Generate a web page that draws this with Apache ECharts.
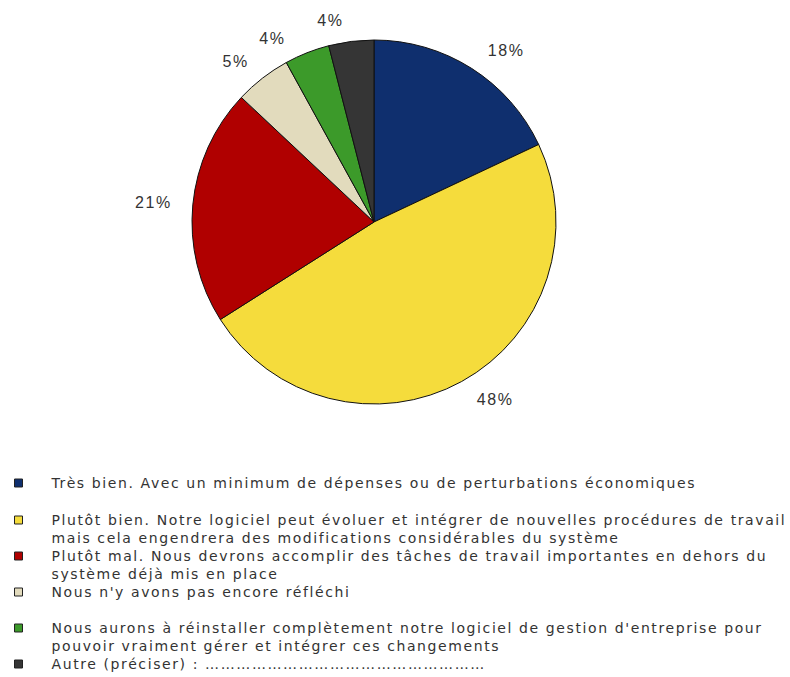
<!DOCTYPE html>
<html>
<head>
<meta charset="utf-8">
<script src="https://cdn.jsdelivr.net/npm/echarts@6/dist/echarts.min.js"></script>
<style>
html,body{margin:0;padding:0;background:#fff;}
#chart{width:790px;height:677px;}
#chart svg text{letter-spacing:1.6px;}
</style>
</head>
<body>
<div id="chart"></div>
<script>
var categories = [
  "Très bien. Avec un minimum de dépenses ou de perturbations économiques",
  "Plutôt bien. Notre logiciel peut évoluer et intégrer de nouvelles procédures de travail mais cela engendrera des modifications considérables du système",
  "Plutôt mal. Nous devrons accomplir des tâches de travail importantes en dehors du système déjà mis en place",
  "Nous n'y avons pas encore réfléchi",
  "Nous aurons à réinstaller complètement notre logiciel de gestion d'entreprise pour pouvoir vraiment gérer et intégrer ces changements",
  "Autre (préciser) : ………………………………………………"
];
var legendLines = [
  ["Très bien. Avec un minimum de dépenses ou de perturbations économiques"],
  ["Plutôt bien. Notre logiciel peut évoluer et intégrer de nouvelles procédures de travail", "mais cela engendrera des modifications considérables du système"],
  ["Plutôt mal. Nous devrons accomplir des tâches de travail importantes en dehors du", "système déjà mis en place"],
  ["Nous n'y avons pas encore réfléchi"],
  ["Nous aurons à réinstaller complètement notre logiciel de gestion d'entreprise pour", "pouvoir vraiment gérer et intégrer ces changements"],
  ["Autre (préciser) : ………………………………………………"]
];
var values = [18, 48, 21, 5, 4, 4];
var colors = ["#0f2f6e", "#f5dc3c", "#b00000", "#e2dbbd", "#3c9a2a", "#353535"];
var legendTops = [474, 511, 547, 583, 619, 655];

var chart = echarts.init(document.getElementById('chart'), null, {renderer: 'svg'});
var data = categories.map(function (c, i) {
  return { name: c, value: values[i], itemStyle: { color: colors[i] } };
});
var LH = 18;
var legends = categories.map(function (c, i) {
  var twoLines = legendLines[i].length > 1;
  return {
    data: [c],
    orient: 'vertical',
    left: 14,
    top: legendTops[i],
    icon: twoLines ? 'path://M0,0L8,0L8,8L0,8Z M0,26' : 'rect',
    itemWidth: 8,
    itemHeight: twoLines ? 26 : 8,
    itemGap: 0,
    itemStyle: { borderColor: '#222', borderWidth: 1 },
    selectedMode: false,
    formatter: function () { return legendLines[i].join('\n'); },
    textStyle: {
      fontFamily: 'DejaVu Sans',
      fontSize: 14,
      lineHeight: LH,
      color: '#333',
      padding: [0, 0, 0, 24]
    },
    padding: 0
  };
});

chart.setOption({
  animation: false,
  backgroundColor: '#fff',
  legend: legends,
  series: [{
    type: 'pie',
    center: [374, 222],
    radius: 182,
    startAngle: 90,
    clockwise: true,
    data: data,
    itemStyle: { borderColor: '#111', borderWidth: 1 },
    label: {
      show: true,
      position: 'outside',
      formatter: '{d}%',
      fontFamily: 'Liberation Sans',
      fontSize: 16,
      color: '#333'
    },
    labelLine: { show: false, length: 21, length2: 0 },
    emphasis: { disabled: true }
  }]
});
</script>
</body>
</html>
